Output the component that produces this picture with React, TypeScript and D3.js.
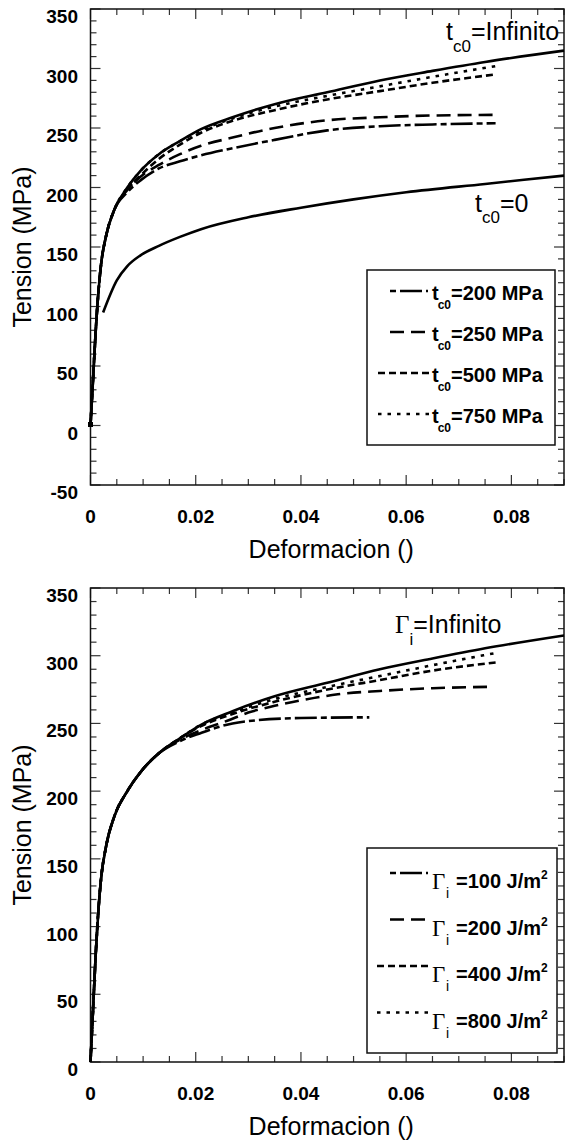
import React from "react";
import * as d3 from "d3";

type Pt = [number, number];

const xTickValues = [0, 0.02, 0.04, 0.06, 0.08];
const xTickLabels = ["0", "0.02", "0.04", "0.06", "0.08"];
const yTicksTop = [-50, 0, 50, 100, 150, 200, 250, 300, 350];
const yTicksBottom = [0, 50, 100, 150, 200, 250, 300, 350];

// shared steep initial rise (all curves except t_c0=0)
const elasticRise: Pt[] = [
  [0, 0], [0.0005, 40], [0.001, 80], [0.0015, 112], [0.002, 135], [0.003, 160], [0.0045, 181],
];

const infinito: Pt[] = [
  ...elasticRise,
  [0.007, 200], [0.0095, 214], [0.013, 228], [0.017, 239], [0.021, 249], [0.027, 259],
  [0.035, 270], [0.045, 280], [0.055, 290], [0.065, 298], [0.075, 305.5], [0.09, 315],
];
const tc0Zero: Pt[] = [
  [0.0024, 95], [0.005, 122], [0.007, 134], [0.0095, 143], [0.013, 151], [0.017, 158.5],
  [0.021, 165], [0.03, 175], [0.04, 183], [0.05, 190], [0.06, 196], [0.075, 203], [0.09, 210],
];
const tc0_200: Pt[] = [
  ...elasticRise,
  [0.007, 196], [0.0095, 206], [0.013, 216], [0.017, 222], [0.021, 227], [0.027, 233],
  [0.035, 240], [0.045, 248], [0.055, 251.5], [0.065, 253], [0.077, 254],
];
const tc0_250: Pt[] = [
  ...elasticRise,
  [0.007, 198], [0.0095, 209], [0.013, 219], [0.017, 228], [0.021, 235], [0.027, 242],
  [0.035, 250], [0.045, 256.5], [0.055, 259], [0.065, 260.5], [0.077, 261],
];
const tc0_500: Pt[] = [
  ...elasticRise,
  [0.007, 198], [0.0095, 210], [0.013, 224], [0.017, 236], [0.021, 246], [0.027, 256],
  [0.035, 265], [0.045, 274], [0.055, 281], [0.065, 288], [0.077, 295],
];
const tc0_750: Pt[] = [
  ...elasticRise,
  [0.007, 200], [0.0095, 214], [0.013, 228], [0.017, 239], [0.021, 248], [0.027, 258],
  [0.035, 268], [0.045, 277], [0.055, 285], [0.065, 293], [0.077, 302],
];

const gi100: Pt[] = [
  ...elasticRise,
  [0.007, 200], [0.0095, 214], [0.013, 228], [0.017, 237], [0.021, 243], [0.024, 247],
  [0.027, 250], [0.032, 252.5], [0.04, 254], [0.053, 254.5],
];
const gi200: Pt[] = [
  ...elasticRise,
  [0.007, 200], [0.0095, 214], [0.013, 228], [0.017, 238], [0.021, 245], [0.026, 252],
  [0.03, 258], [0.035, 263], [0.04, 267], [0.047, 271.5], [0.055, 274], [0.065, 276], [0.076, 277],
];
const gi400: Pt[] = [
  ...elasticRise,
  [0.007, 200], [0.0095, 214], [0.013, 228], [0.017, 239], [0.021, 248], [0.027, 257],
  [0.035, 266], [0.045, 275], [0.055, 282], [0.065, 289], [0.077, 295],
];
const gi800: Pt[] = [
  ...elasticRise,
  [0.007, 200], [0.0095, 214], [0.013, 228], [0.017, 239], [0.021, 249], [0.027, 258],
  [0.035, 268], [0.045, 277], [0.055, 285], [0.065, 293], [0.077, 302],
];

const legendTopLabels = ["=200 MPa", "=250 MPa", "=500 MPa", "=750 MPa"];
const legendBottomLabels = ["=100 J/m", "=200 J/m", "=400 J/m", "=800 J/m"];

const DASH = {
  solid: undefined,
  dashDot: "22,4,6,4",
  long: "14,7",
  short: "7,4",
  dot: "3.5,6",
};
const legendDashes = [DASH.dashDot, DASH.long, DASH.short, DASH.dot];

const FONT = "'Liberation Sans', Arial, sans-serif";
const X0 = 90.5;
const X1 = 564;

type Curve = { data: Pt[]; dash?: string };

function Panel({ top, bottom, yDomain, yTicks, curves }: {
  top: number; bottom: number; yDomain: [number, number]; yTicks: number[]; curves: Curve[];
}) {
  const x = d3.scaleLinear().domain([0, 0.09]).range([X0, X1]);
  const y = d3.scaleLinear().domain(yDomain).range([bottom, top]);
  const line = d3.line<Pt>().x(d => x(d[0])).y(d => y(d[1])).curve(d3.curveMonotoneX);
  const xMinor = d3.range(0, 0.0901, 0.005).filter(v => Math.abs(v / 0.02 - Math.round(v / 0.02)) > 1e-6);
  const yMinor = d3.range(yDomain[0], yDomain[1] + 0.1, 10).filter(v => v % 50 !== 0);
  const tk = "#333";
  return (
    <g>
      {/* ticks on all four sides, inward */}
      {xTickValues.map(v => (
        <g key={"xm" + v}>
          <line x1={x(v)} x2={x(v)} y1={bottom} y2={bottom - 10} stroke={tk} strokeWidth={1.2} />
          <line x1={x(v)} x2={x(v)} y1={top} y2={top + 10} stroke={tk} strokeWidth={1.2} />
        </g>
      ))}
      {xMinor.map(v => (
        <g key={"xn" + v}>
          <line x1={x(v)} x2={x(v)} y1={bottom} y2={bottom - 6} stroke={tk} strokeWidth={1.2} />
          <line x1={x(v)} x2={x(v)} y1={top} y2={top + 6} stroke={tk} strokeWidth={1.2} />
        </g>
      ))}
      {yTicks.map(v => (
        <g key={"ym" + v}>
          <line x1={X0} x2={X0 + 10} y1={y(v)} y2={y(v)} stroke={tk} strokeWidth={1.2} />
          <line x1={X1} x2={X1 - 10} y1={y(v)} y2={y(v)} stroke={tk} strokeWidth={1.2} />
        </g>
      ))}
      {yMinor.map(v => (
        <g key={"yn" + v}>
          <line x1={X0} x2={X0 + 6} y1={y(v)} y2={y(v)} stroke={tk} strokeWidth={1.2} />
          <line x1={X1} x2={X1 - 6} y1={y(v)} y2={y(v)} stroke={tk} strokeWidth={1.2} />
        </g>
      ))}
      <rect x={X0} y={top} width={X1 - X0} height={bottom - top} fill="none" stroke="#111" strokeWidth={1.5} />
      {/* tick labels */}
      {xTickValues.map((v, i) => (
        <text key={"xl" + v} x={x(v)} y={bottom + 38} textAnchor="middle" fontFamily={FONT}
          fontWeight="bold" fontSize={19}>{xTickLabels[i]}</text>
      ))}
      {yTicks.map(v => (
        <text key={"yl" + v} x={78} y={y(v) + 14} textAnchor="end" fontFamily={FONT}
          fontWeight="bold" fontSize={19}>{v}</text>
      ))}
      <text x={(X0 + X1) / 2 + 4} y={bottom + 73} textAnchor="middle" fontFamily={FONT} fontSize={25}>
        Deformacion ()
      </text>
      <text transform={`translate(31,${(top + bottom) / 2}) rotate(-90)`} textAnchor="middle"
        fontFamily={FONT} fontSize={25}>Tension (MPa)</text>
      {/* curves */}
      {curves.map((c, i) => (
        <path key={"c" + i} d={line(c.data) || ""} fill="none" stroke="#000" strokeWidth={2.6}
          strokeDasharray={c.dash} />
      ))}
    </g>
  );
}

export default function App() {
  return (
    <svg width={565} height={1144} style={{ position: "absolute", left: 0, top: 0, background: "#fff" }}>
      <rect width={565} height={1144} fill="#fff" />
      <Panel top={9} bottom={485} yDomain={[-50, 350]} yTicks={yTicksTop}
        curves={[
          { data: infinito }, { data: tc0Zero },
          { data: tc0_200, dash: DASH.dashDot }, { data: tc0_250, dash: DASH.long },
          { data: tc0_500, dash: DASH.short }, { data: tc0_750, dash: DASH.dot },
        ]} />
      <rect x={88} y={422} width={5} height={5} fill="#000" />
      <Panel top={588} bottom={1062} yDomain={[0, 350]} yTicks={yTicksBottom}
        curves={[
          { data: infinito },
          { data: gi100, dash: DASH.dashDot }, { data: gi200, dash: DASH.long },
          { data: gi400, dash: DASH.short }, { data: gi800, dash: DASH.dot },
        ]} />

      {/* annotations top */}
      <text x={446} y={40} fontFamily={FONT} fontSize={25}>
        t<tspan dy={12} fontSize={17}>c0</tspan><tspan dy={-12}>=Infinito</tspan>
      </text>
      <text x={475} y={212} fontFamily={FONT} fontSize={25}>
        t<tspan dy={11} fontSize={17}>c0</tspan><tspan dy={-11}>=0</tspan>
      </text>
      {/* annotation bottom */}
      <text x={395} y={633} fontFamily={FONT} fontSize={25}>
        <tspan fontFamily="'Liberation Serif', serif">Γ</tspan>
        <tspan dy={12} fontSize={17}>i</tspan><tspan dy={-12}>=Infinito</tspan>
      </text>

      {/* legend top */}
      <rect x={367} y={270} width={188} height={175} fill="#fff" stroke="#111" strokeWidth={1.5} />
      {legendTopLabels.map((lab, i) => {
        const by = 300 + i * 41;
        const short = i >= 2;
        return (
          <g key={"lt" + i}>
            <line x1={short ? 378 : 390} x2={short ? 430 : 428} y1={by - 9} y2={by - 9} stroke="#000"
              strokeWidth={2.6} strokeDasharray={legendDashes[i]}
              strokeDashoffset={i === 0 ? 26 : 0} />
            <text x={432} y={by} fontFamily={FONT} fontWeight="bold" fontSize={20}>
              t<tspan dy={9} fontSize={12} dx={-1}>c0</tspan><tspan dy={-9}>{lab}</tspan>
            </text>
          </g>
        );
      })}

      {/* legend bottom */}
      <rect x={367} y={848} width={190} height={205} fill="#fff" stroke="#111" strokeWidth={1.5} />
      {legendBottomLabels.map((lab, i) => {
        const by = 888 + i * 46.5;
        const short = i >= 2;
        return (
          <g key={"lb" + i}>
            <line x1={short ? 377 : 390} x2={short ? 430 : 428} y1={by - 15} y2={by - 15} stroke="#000"
              strokeWidth={2.6} strokeDasharray={legendDashes[i]}
              strokeDashoffset={i === 0 ? 26 : 0} />
            <text x={432} y={by + 1} fontFamily="'Liberation Serif', serif" fontSize={23}>Γ</text>
            <text x={446} y={by + 10} fontFamily={FONT} fontSize={14}>i</text>
            <text x={456} y={by} fontFamily={FONT} fontWeight="bold" fontSize={20}>
              {lab}<tspan dy={-9} fontSize={12}>2</tspan>
            </text>
          </g>
        );
      })}
    </svg>
  );
}
